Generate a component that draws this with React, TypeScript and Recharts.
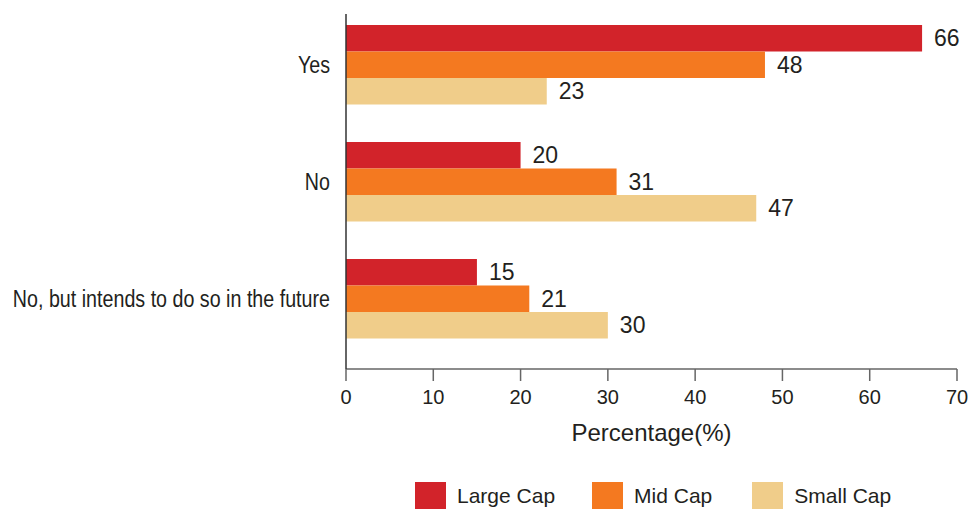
import { BarChart, Bar, XAxis, YAxis, LabelList } from 'recharts'

const categories = ['Yes', 'No', 'No, but intends to do so in the future']
const largeCap = [66, 20, 15]
const midCap = [48, 31, 21]
const smallCap = [23, 47, 30]
const xTicks = [0, 10, 20, 30, 40, 50, 60, 70]

const series = [
  { key: 'large', name: 'Large Cap', color: '#D2232A' },
  { key: 'mid', name: 'Mid Cap', color: '#F47920' },
  { key: 'small', name: 'Small Cap', color: '#F0CD8A' },
]

const data = categories.map((name, i) => ({
  name,
  large: largeCap[i],
  mid: midCap[i],
  small: smallCap[i],
}))

const font = 'Liberation Sans, Arial, sans-serif'
const textColor = '#231F20'

// condensed category labels (no narrow font available, so squeeze horizontally)
function CategoryTick(props: any) {
  const { x, y, payload } = props
  return (
    <text
      transform={`translate(${x},${y}) scale(0.82,1)`}
      textAnchor="end"
      dy="0.355em"
      fontSize={24}
      fill={textColor}
      fontFamily={font}
    >
      {payload.value}
    </text>
  )
}

export default function App() {
  return (
    <div style={{ position: 'absolute', left: 0, top: 0, width: 972, height: 509, fontFamily: font }}>
      <BarChart
        width={972}
        height={509}
        data={data}
        layout="vertical"
        margin={{ top: 14, right: 15, left: 0, bottom: 0 }}
        barGap={0}
        barSize={26.5}
      >
        <XAxis
          type="number"
          domain={[0, 70]}
          ticks={xTicks}
          height={140}
          tickSize={12}
          tickMargin={9}
          axisLine={{ stroke: '#666', strokeWidth: 1.5 }}
          tickLine={{ stroke: '#666', strokeWidth: 1.5 }}
          tick={{ fontSize: 20, fill: textColor, fontFamily: font }}
          label={{
            value: 'Percentage(%)',
            position: 'insideTop',
            offset: 55,
            fontSize: 24,
            fill: textColor,
            fontFamily: font,
          }}
        />
        <YAxis
          type="category"
          dataKey="name"
          width={346}
          padding={{ top: -8, bottom: 12 }}
          tickLine={false}
          tickSize={6}
          tickMargin={10}
          axisLine={{ stroke: '#333', strokeWidth: 1.5 }}
          tick={<CategoryTick />}
        />
        {series.map((s) => (
          <Bar key={s.key} dataKey={s.key} name={s.name} fill={s.color} isAnimationActive={false}>
            <LabelList
              dataKey={s.key}
              position="right"
              offset={12}
              fontSize={23}
              fill={textColor}
              fontFamily={font}
            />
          </Bar>
        ))}
      </BarChart>
      <div
        style={{
          position: 'absolute',
          left: 415,
          top: 482,
          display: 'flex',
          alignItems: 'center',
          fontSize: 21,
          color: textColor,
        }}
      >
        {series.map((s, i) => (
          <div key={s.key} style={{ display: 'flex', alignItems: 'center', marginRight: i === 0 ? 37 : 40 }}>
            <div style={{ width: 31, height: 27, background: s.color, marginRight: 11 }} />
            <span>{s.name}</span>
          </div>
        ))}
      </div>
    </div>
  )
}
